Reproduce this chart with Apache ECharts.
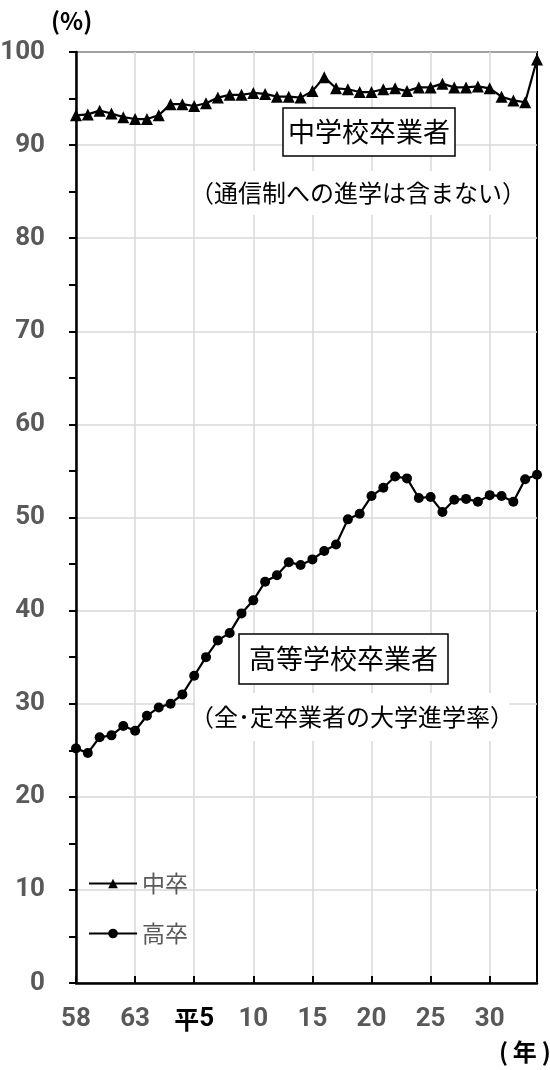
<!DOCTYPE html>
<html>
<head>
<meta charset="utf-8">
<script src="https://cdn.jsdelivr.net/npm/echarts@6/dist/echarts.min.js"></script>
<style>
  html, body { margin: 0; padding: 0; background: #fff; }
  #chart { width: 550px; height: 1070px; }
</style>
</head>
<body>
<div id="chart"></div>
<script>
// 年（昭和58年〜平成34年相当）
const years = ['58', '59', '60', '61', '62', '63', '元', '2', '3', '4',
  '平5', '6', '7', '8', '9', '10', '11', '12', '13', '14',
  '15', '16', '17', '18', '19', '20', '21', '22', '23', '24',
  '25', '26', '27', '28', '29', '30', '31', '32', '33', '34'];

// 中学校卒業者の進学率（%）
const chuSotsu = [93.2, 93.3, 93.7, 93.4, 93.0, 92.8, 92.8, 93.2, 94.4, 94.4,
  94.2, 94.5, 95.1, 95.4, 95.4, 95.6, 95.5, 95.2, 95.2, 95.1,
  95.8, 97.3, 96.1, 96.0, 95.7, 95.7, 96.0, 96.1, 95.8, 96.2,
  96.2, 96.6, 96.2, 96.2, 96.3, 96.1, 95.2, 94.8, 94.6, 99.2];

// 高等学校卒業者の大学進学率（%）
const kouSotsu = [25.2, 24.7, 26.4, 26.6, 27.6, 27.1, 28.7, 29.6, 30.0, 31.0,
  33.0, 35.0, 36.8, 37.6, 39.7, 41.1, 43.1, 43.8, 45.2, 44.9,
  45.5, 46.4, 47.1, 49.8, 50.4, 52.3, 53.2, 54.4, 54.2, 52.1,
  52.2, 50.6, 51.9, 52.0, 51.7, 52.4, 52.3, 51.7, 54.1, 54.6];

const seriesNames = ['中卒', '高卒'];
const yTicks = { min: 0, max: 100, interval: 10 };

const numFont = "Roboto, 'Liberation Sans', sans-serif";
const jpFont = "'Noto Sans CJK JP', 'Noto Sans', sans-serif";
const gray = '#595959';

const chart = echarts.init(document.getElementById('chart'));

function label(cx, cy, w, h, text, size, framed) {
  return {
    type: 'group',
    children: [
      { type: 'rect', shape: { x: cx - w / 2, y: cy - h / 2, width: w, height: h },
        style: framed ? { fill: '#fff', stroke: '#000', lineWidth: 1.5 } : { fill: '#fff' }, z: 10 },
      { type: 'text', x: cx, y: cy, z: 11,
        style: { text: text, fill: '#000', fontSize: size, fontFamily: jpFont,
                 align: 'center', verticalAlign: 'middle' } }
    ]
  };
}

// 単位表示（縦軸・横軸）
const unitStyle = { color: '#000', fontSize: 24, fontWeight: 'bold', fontFamily: jpFont, lineHeight: 24 };

chart.setOption({
  animation: false,
  backgroundColor: '#fff',
  title: [
    { text: '(%)', left: 51, top: 9, padding: 0, textStyle: unitStyle },
    { text: '(\u2009年\u2009)', left: 499, top: 1040, padding: 0, textStyle: unitStyle }
  ],
  grid: {
    left: 76, right: 13, top: 52, bottom: 87,
    containLabel: false, outerBoundsMode: 'none',
    show: true, borderColor: '#000', borderWidth: 2, backgroundColor: 'transparent'
  },
  legend: {
    orient: 'vertical',
    left: 88, top: 872, padding: 0,
    itemWidth: 48, itemHeight: 12, itemGap: 27,
    textStyle: { color: gray, fontSize: 23, fontFamily: jpFont },
    data: seriesNames
  },
  xAxis: {
    type: 'category',
    data: years,
    boundaryGap: false,
    axisLine: { lineStyle: { color: '#000', width: 2.5 } },
    axisTick: { inside: true, length: 7, interval: 4, lineStyle: { color: '#000', width: 2 } },
    splitLine: { show: true, interval: 4, lineStyle: { color: '#d9d9d9', width: 1.5 } },
    axisLabel: {
      interval: 4, margin: 23,
      color: gray, fontSize: 26, fontWeight: 'bold', fontFamily: numFont,
      formatter: v => v === '平5' ? '{h|平}{n|5}' : v,
      rich: {
        h: { color: '#000', fontSize: 25, fontWeight: 'bold', fontFamily: jpFont },
        n: { color: '#000', fontSize: 26, fontWeight: 'bold', fontFamily: numFont }
      }
    }
  },
  yAxis: {
    type: 'value',
    min: yTicks.min, max: yTicks.max, interval: yTicks.interval,
    axisLine: { show: true, lineStyle: { color: '#000', width: 2.5 } },
    axisTick: { show: true, length: 7, lineStyle: { color: '#000', width: 2 } },
    minorTick: { show: true, splitNumber: 2, length: 7, lineStyle: { color: '#000', width: 2 } },
    splitLine: { show: true, lineStyle: { color: '#d9d9d9', width: 1.5 } },
    axisLabel: {
      margin: 31, color: gray, fontSize: 26, fontWeight: 'bold', fontFamily: numFont
    }
  },
  series: [
    {
      name: seriesNames[0], type: 'line', data: chuSotsu,
      symbol: 'triangle', symbolSize: 12, showAllSymbol: true,
      lineStyle: { color: '#000', width: 2.2 },
      itemStyle: { color: '#000' }, z: 3
    },
    {
      name: seriesNames[1], type: 'line', data: kouSotsu,
      symbol: 'circle', symbolSize: 10, showAllSymbol: true,
      lineStyle: { color: '#000', width: 2.2 },
      itemStyle: { color: '#000' }, z: 3
    }
  ],
  graphic: [
    label(369, 132, 172, 48, '中学校卒業者', 27, true),
    label(358, 193, 320, 44, '（通信制への進学は含まない）', 24, false),
    label(343.5, 659, 209, 50, '高等学校卒業者', 27, true),
    label(352, 717, 314, 48, '（全･定卒業者の大学進学率）', 24, false)
  ]
});
</script>
</body>
</html>
